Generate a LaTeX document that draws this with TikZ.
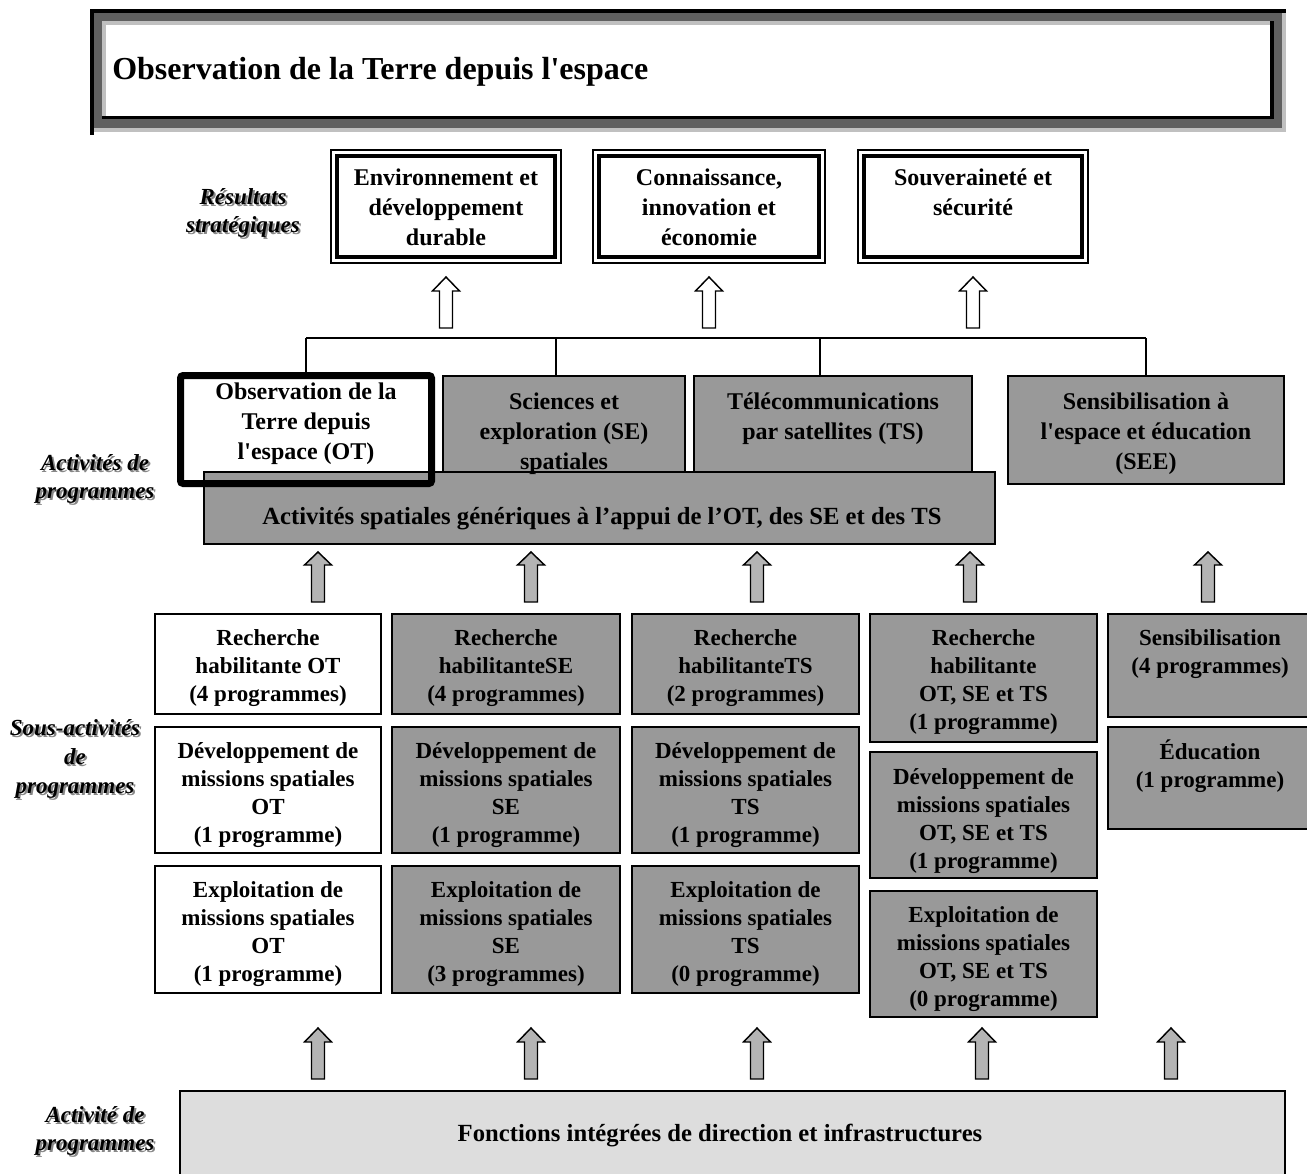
\documentclass[tikz,border=0pt]{standalone}
\usepackage{fontspec}
\setmainfont{Liberation Serif}[Ligatures=TeXOff]
\usetikzlibrary{calc}

\definecolor{boxgray}{RGB}{153,153,153}
\definecolor{arrgray}{RGB}{180,180,180}
\definecolor{basegray}{RGB}{221,221,221}
\definecolor{framedark}{RGB}{96,96,96}
\definecolor{framelight}{RGB}{192,192,192}
\definecolor{shadowgray}{RGB}{135,135,135}

% rectangle node given by its corners (name, x1, y1, x2, y2, style)
\newcommand\pxbox[6]{%
  \node[#6, anchor=north west, inner sep=0pt, outer sep=0pt,
        minimum width={(#4-#2)*0.75pt}, minimum height={(#5-#3)*0.75pt}]
        (#1) at (#2,#3) {};}

% upward block arrow (name, x, tip y, head base y, bottom y, fill)
\newcommand\blockup[6]{%
  \coordinate (#1) at (#2,#5);
  \draw[blockline, fill=#6]
    (#2-6.5,#5) -- (#2-6.5,#4) -- (#2-13.5,#4) -- (#2,#3)
    -- (#2+13.5,#4) -- (#2+6.5,#4) -- (#2+6.5,#5) -- cycle;}

% italic side label with a soft drop shadow (name, x, y, text)
\newcommand\sidelabel[4]{%
  \node[sidetxt, text=shadowgray] (#1sh) at (#2+2,#3+2) {#4};
  \node[sidetxt] (#1) at (#2,#3) {#4};}

\tikzset{
  blockline/.style={line width=1.1pt, line join=miter},
  whitebox/.style={draw, line width=0.8pt, fill=white},
  graybox/.style={draw, line width=1.1pt, fill=boxgray},
  outcome/.style={draw, line width=0.8pt, fill=white},
  boxtxt/.style={font=\fontsize{17.25pt}{21pt}\selectfont\bfseries,
                 align=center, inner sep=0pt, anchor=north},
  toptxt/.style={font=\fontsize{18pt}{22.5pt}\selectfont\bfseries,
                 align=center, inner sep=0pt, anchor=north},
  widetxt/.style={font=\fontsize{18.5pt}{22pt}\selectfont\bfseries,
                 inner sep=0pt, anchor=center},
  sidetxt/.style={font=\fontsize{17.25pt}{21.5pt}\selectfont\bfseries\itshape,
                  align=center, inner sep=0pt},
  bus/.style={line width=0.8pt},
}

\begin{document}
\begin{tikzpicture}[x=0.75pt, y=-0.75pt]
\useasboundingbox (0,0) rectangle (1307,1174);

% ---------- title frame ----------
\fill[framedark] (90,9) rectangle (1286,132);
\fill[framelight] (90,128) rectangle (1286,132);
\fill[framelight] (1282,9) rectangle (1286,132);
\fill[black] (90,9) rectangle (1286,13);
\fill[black] (90,9) rectangle (94,132);
\fill[black] (90,132) rectangle (94,135);
\fill[white] (102,21) rectangle (1274,119);
\fill[framelight] (102,21) rectangle (1274,25);
\fill[framelight] (102,21) rectangle (106,119);
\fill[black] (102,116) rectangle (1274,119);
\fill[black] (1270,21) rectangle (1274,119);
\node[font=\fontsize{24pt}{28pt}\selectfont\bfseries, anchor=west, inner sep=0pt]
  (title) at (112,72) {Observation de la Terre depuis l'espace};

% ---------- strategic outcomes ----------
\sidelabel{lRS}{243}{213}{Résultats\\stratégiques}

\pxbox{env}{331}{150}{561}{263}{outcome}
\pxbox{con}{593}{150}{825}{263}{outcome}
\pxbox{sov}{858}{150}{1088}{263}{outcome}
\foreach \b in {env,con,sov}
  \draw[line width=3pt] ($(\b.north west)+(6,6)$) rectangle ($(\b.south east)+(-6,-6)$);
\node[toptxt] (envT) at ($(env.north)+(0,14)$) {\strut Environnement et\\développement\\durable};
\node[toptxt] (conT) at ($(con.north)+(0,14)$) {\strut Connaissance,\\innovation et\\économie};
\node[toptxt] (sovT) at ($(sov.north)+(0,14)$) {\strut Souveraineté et\\sécurité};

\blockup{aEnv}{446}{277}{291}{328}{white}
\blockup{aCon}{709}{277}{291}{328}{white}
\blockup{aSov}{973}{277}{291}{328}{white}

% ---------- program activities ----------
\sidelabel{lAP}{95}{479}{Activités de\\programmes}

\pxbox{ot}{180.5}{375.5}{431.5}{483.5}{fill=white}
\pxbox{se}{443}{376}{685}{480}{graybox}
\pxbox{ts}{694}{376}{972}{474}{graybox}
\pxbox{see}{1008}{376}{1284}{484}{graybox}
\pxbox{gen}{204}{472}{995}{544}{graybox}
\draw[line width=5.25pt, rounded corners=2pt] (ot.north west) rectangle (ot.south east);

\node[toptxt] (otT) at ($(ot.north)+(0,3)$) {\strut Observation de la\\Terre depuis\\l'espace (OT)};
\node[toptxt] (seT) at ($(se.north)+(0,12.5)$) {\strut Sciences et\\exploration (SE)\\spatiales};
\node[toptxt] (tsT) at ($(ts.north)+(0,12.5)$) {\strut Télécommunications\\par satellites (TS)};
\node[toptxt] (seeT) at ($(see.north)+(0,12.5)$) {\strut Sensibilisation à\\l'espace et éducation\\(SEE)};
\node[widetxt] (genT) at (602,519) {Activités spatiales génériques à l’appui de l’OT, des SE et des TS};

\coordinate (busW) at (306,338);
\coordinate (busSE) at (556,338);
\coordinate (busTS) at (820,338);
\coordinate (busE) at (1146,338);
\draw[bus] (busW) -- (busE);
\draw[bus] (busW) -- (busW |- ot.north);
\draw[bus] (busSE) -- (busSE |- se.north);
\draw[bus] (busTS) -- (busTS |- ts.north);
\draw[bus] (busE) -- (busE |- see.north);

\blockup{u1}{318}{552}{565}{602}{arrgray}
\blockup{u2}{531}{552}{565}{602}{arrgray}
\blockup{u3}{757}{552}{565}{602}{arrgray}
\blockup{u4}{970}{552}{565}{602}{arrgray}
\blockup{u5}{1208}{552}{565}{602}{arrgray}

% ---------- program sub-activities ----------
\sidelabel{lSA}{75}{759}{Sous-activités\\de\\programmes}

\pxbox{r1}{155}{614}{381}{714}{whitebox}
\pxbox{d1}{155}{727}{381}{853}{whitebox}
\pxbox{e1}{155}{866}{381}{993}{whitebox}
\pxbox{r2}{392}{614}{620}{714}{graybox}
\pxbox{d2}{392}{727}{620}{853}{graybox}
\pxbox{e2}{392}{866}{620}{993}{graybox}
\pxbox{r3}{632}{614}{859}{714}{graybox}
\pxbox{d3}{632}{727}{859}{853}{graybox}
\pxbox{e3}{632}{866}{859}{993}{graybox}
\pxbox{r4}{870}{614}{1097}{742}{graybox}
\pxbox{d4}{870}{752}{1097}{878}{graybox}
\pxbox{e4}{870}{891}{1097}{1017}{graybox}
\pxbox{s5}{1108}{614}{1314}{717}{graybox}
\pxbox{ed5}{1108}{727}{1314}{829}{graybox}

\node[boxtxt] (r1T) at ($(r1.north)+(0,12)$) {\strut Recherche\\habilitante OT\\(4 programmes)};
\node[boxtxt] (d1T) at ($(d1.north)+(0,12)$) {\strut Développement de\\missions spatiales\\OT\\(1 programme)};
\node[boxtxt] (e1T) at ($(e1.north)+(0,12)$) {\strut Exploitation de\\missions spatiales\\OT\\(1 programme)};
\node[boxtxt] (r2T) at ($(r2.north)+(0,12)$) {\strut Recherche\\habilitanteSE\\(4 programmes)};
\node[boxtxt] (d2T) at ($(d2.north)+(0,12)$) {\strut Développement de\\missions spatiales\\SE\\(1 programme)};
\node[boxtxt] (e2T) at ($(e2.north)+(0,12)$) {\strut Exploitation de\\missions spatiales\\SE\\(3 programmes)};
\node[boxtxt] (r3T) at ($(r3.north)+(0,12)$) {\strut Recherche\\habilitanteTS\\(2 programmes)};
\node[boxtxt] (d3T) at ($(d3.north)+(0,12)$) {\strut Développement de\\missions spatiales\\TS\\(1 programme)};
\node[boxtxt] (e3T) at ($(e3.north)+(0,12)$) {\strut Exploitation de\\missions spatiales\\TS\\(0 programme)};
\node[boxtxt] (r4T) at ($(r4.north)+(0,12)$) {\strut Recherche\\habilitante\\OT, SE et TS\\(1 programme)};
\node[boxtxt] (d4T) at ($(d4.north)+(0,13)$) {\strut Développement de\\missions spatiales\\OT, SE et TS\\(1 programme)};
\node[boxtxt] (e4T) at ($(e4.north)+(0,12)$) {\strut Exploitation de\\missions spatiales\\OT, SE et TS\\(0 programme)};
\node[boxtxt] (s5T) at (1210,626) {\strut Sensibilisation\\(4 programmes)};
\node[boxtxt] (ed5T) at (1210,739) {\strut Éducation\\(1 programme)};

\blockup{v1}{318}{1028}{1042}{1079}{arrgray}
\blockup{v2}{531}{1028}{1042}{1079}{arrgray}
\blockup{v3}{757}{1028}{1042}{1079}{arrgray}
\blockup{v4}{982}{1028}{1042}{1079}{arrgray}
\blockup{v5}{1171}{1028}{1042}{1079}{arrgray}

% ---------- internal services ----------
\sidelabel{lAB}{95}{1131}{Activité de\\programmes}
\pxbox{base}{180}{1091}{1285}{1180}{draw, line width=1.1pt, fill=basegray}
\node[widetxt] (baseT) at (720,1136) {Fonctions intégrées de direction et infrastructures};

\end{tikzpicture}
\end{document}
